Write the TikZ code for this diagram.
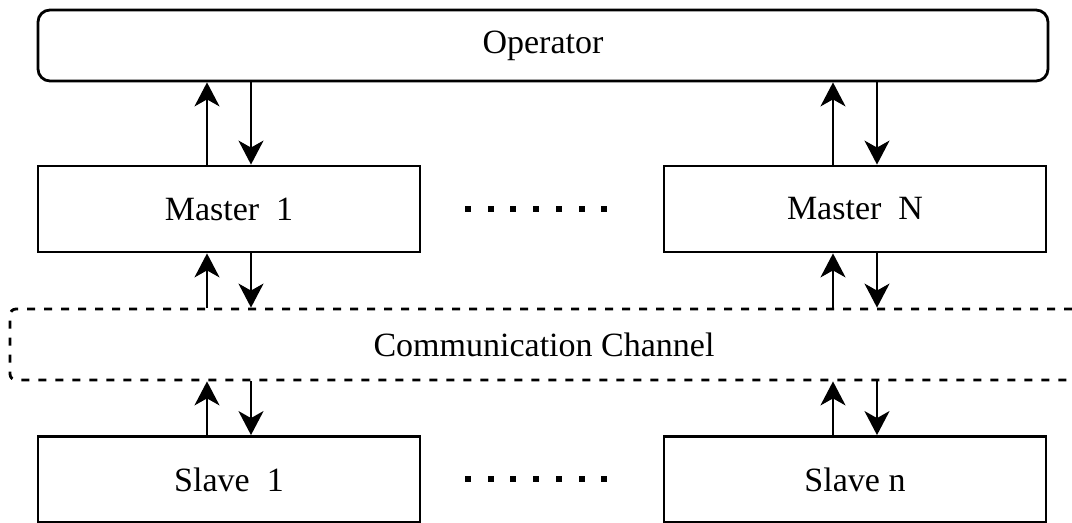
\documentclass[tikz,border=0pt]{standalone}
\usepackage{fontspec}
\setmainfont{Liberation Serif}
\usetikzlibrary{arrows.meta}

\tikzset{
  box/.style={draw,line width=1.4pt,minimum width=191pt,minimum height=43pt,inner sep=0pt},
  link/.style={line width=1.1pt},
}

\begin{document}
\begin{tikzpicture}[x=0.5pt,y=-0.5pt,font=\fontsize{17}{20}\selectfont,>={Stealth[length=12pt,width=12.5pt,inset=3.5pt]}]
    \clip (0,0) rectangle (1072,523);

    % Operator on top
    \node (op) at (543,45.5) [draw,line width=1.4pt,rounded corners=6pt,minimum width=505pt,minimum height=35.5pt] {Operator};

    % Masters and slaves
    \node (m1) at (229,209) [box] {Master~~1};
    \node (mN) at (855,209) [box] {Master~~N};
    \node (s1) at (229,479.5) [box] {Slave~~1};
    \node (sN) at (855,479.5) [box] {Slave n};

    % Channel, open to the right
    \node (chan) at (544,344.5) [draw,dash pattern=on 4pt off 4.5pt,line width=1.4pt,rounded corners=3pt,minimum width=534pt,minimum height=35.5pt] {Communication Channel};

    % dots between the boxes
    \foreach \k in {0,...,6} {
      \fill (465+22.7*\k,206) rectangle +(6,6);
      \fill (465+22.7*\k,476.5) rectangle +(6,6);
    }

    % Connect boxes (up and down)
    \foreach \n in {1,N} {
      \draw [link,->] ([xshift=-11pt]m\n.north) -- ([xshift=-11pt]m\n.north |- op.south);
      \draw [link,->] ([xshift=11pt]m\n.north |- op.south) -- ([xshift=11pt]m\n.north);
      \draw [link,->] ([xshift=-11pt]m\n.south |- chan.north) -- ([xshift=-11pt]m\n.south);
      \draw [link,->] ([xshift=11pt]m\n.south) -- ([xshift=11pt]m\n.south |- chan.north);
      \draw [link,->] ([xshift=-11pt]s\n.north) -- ([xshift=-11pt]s\n.north |- chan.south);
      \draw [link,->] ([xshift=11pt]s\n.north |- chan.south) -- ([xshift=11pt]s\n.north);
    }
\end{tikzpicture}
\end{document}
